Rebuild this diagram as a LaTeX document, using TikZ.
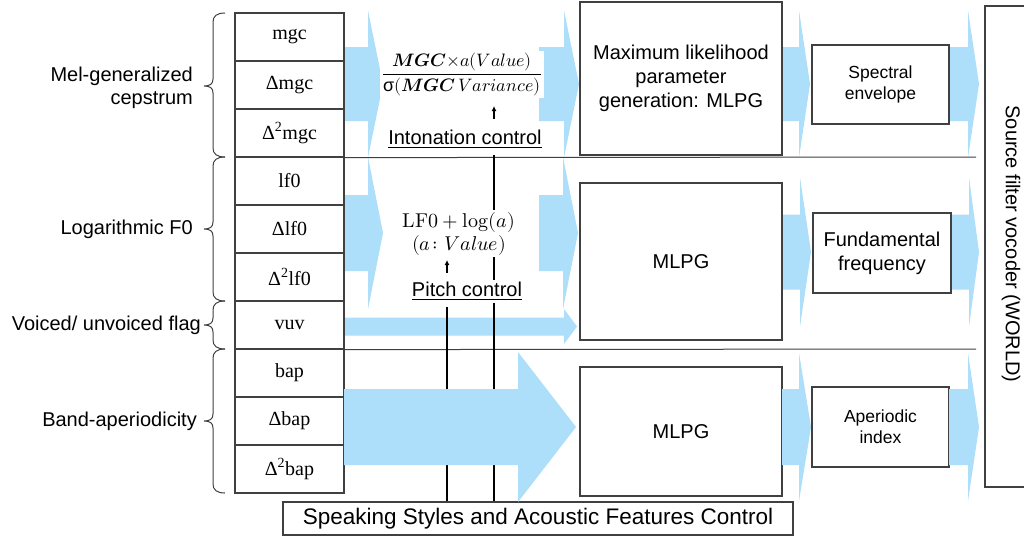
\documentclass[tikz,border=0pt]{standalone}
\usepackage{amsmath}
\usepackage{unicode-math}
\setmainfont{Liberation Sans}
\setmathfont{latinmodern-math.otf}
\newfontfamily\serifT{Liberation Serif}
\usetikzlibrary{arrows.meta}
\definecolor{lblue}{RGB}{173,222,250}
\definecolor{edge}{RGB}{64,64,64}
\tikzset{
  cell/.style={draw=edge, line width=1.2pt, minimum width=109pt, minimum height=48pt, inner sep=0pt, font=\serifT\fontsize{20}{24}\selectfont},
  lab/.style={font=\fontsize{20}{23}\selectfont, anchor=east, align=right, inner sep=0pt},
  box/.style={draw=edge, line width=1.3pt, inner sep=0pt, align=center, font=\fontsize{20}{24}\selectfont},
  smallbox/.style={box, font=\fontsize{17.5}{21}\selectfont},
  sepline/.style={draw=edge, line width=1pt},
  vline/.style={draw=black, line width=1.8pt},
  upar/.style={-{Latex[length=5pt,width=5pt]}, line width=1.5pt},
  ctl/.style={font=\fontsize{20}{24}\selectfont, inner sep=2pt, fill=white},
  mathtxt/.style={inner sep=2pt, fill=white},
  bracestyle/.style={draw=edge, line width=1pt},
}
\newcommand\blockarrow[6]{% x0 x1 x2 yc shafthalf headhalf
  \fill[lblue] (#1,#4-#5) -- (#2,#4-#5) -- (#2,#4-#6) -- (#3,#4) -- (#2,#4+#6) -- (#2,#4+#5) -- (#1,#4+#5) -- cycle;}
\newcommand\featbrace[3]{% ytop ytip ybottom
  \draw[bracestyle] (225,#1) .. controls (217,#1) and (213,#1+3) .. (213,#1+9) -- (213,#2-7)
    .. controls (213,#2-2) and (210,#2) .. (204,#2) .. controls (210,#2) and (213,#2+2) .. (213,#2+7)
    -- (213,#3-9) .. controls (213,#3-3) and (217,#3) .. (225,#3);}
\begin{document}
\begin{tikzpicture}[x=1pt,y=-1pt]
\clip (0,0) rectangle (1024,539);
\fill[white] (0,0) rectangle (1024,539);

% blue block arrows
\blockarrow{344}{368}{383}{84}{37}{73.5}
\blockarrow{539}{564}{579}{84}{37}{73.5}
\blockarrow{782}{799}{810}{84}{37}{73.5}
\blockarrow{949}{968}{979}{84}{37}{73.5}
\blockarrow{344}{368}{383}{233}{38}{76}
\blockarrow{539}{563}{578}{233}{38}{76}
\blockarrow{782}{800}{811}{252}{37.5}{74.5}
\blockarrow{951}{969}{979}{252}{37.5}{74.5}
\blockarrow{344}{564}{577}{326.5}{9}{17.5}

% feature table
\node[cell] (c0) at (289.5,37) {mgc};
\node[cell] (c1) at (289.5,85) {Δmgc};
\node[cell] (c2) at (289.5,133) {Δ\textsuperscript{2}mgc};
\node[cell] (c3) at (289.5,181) {lf0};
\node[cell] (c4) at (289.5,229) {Δlf0};
\node[cell] (c5) at (289.5,277) {Δ\textsuperscript{2}lf0};
\node[cell] (c6) at (289.5,325) {vuv};
\node[cell] (c7) at (289.5,373) {bap};
\node[cell] (c8) at (289.5,421) {Δbap};
\node[cell] (c9) at (289.5,469) {Δ\textsuperscript{2}bap};

% separators
\draw[sepline] (c2.south east) -- (976,157);
\draw[sepline] (c6.south east) -- (976,349);

% braces and labels
\featbrace{13}{86}{157}
\featbrace{157}{229}{301}
\featbrace{301}{325}{349}
\featbrace{349}{421}{493}
\node[lab] (lmgc) at (193,88) {Mel-generalized\\cepstrum};
\node[lab] (llf0) at (193,229) {Logarithmic F0};
\node[lab] (lvuv) at (201,325) {Voiced/ unvoiced flag};
\node[lab] (lbap) at (197,421) {Band-aperiodicity};

% MLPG boxes
\node[box, minimum width=202pt, minimum height=153pt] (m1) at (681,78.5) {Maximum likelihood\\parameter\\generation: MLPG};
\node[box, minimum width=202pt, minimum height=157pt] (m2) at (681,261.5) {MLPG};
\node[box, minimum width=202pt, minimum height=129pt] (m3) at (681,431.5) {MLPG};

% output boxes
\node[smallbox, minimum width=137pt, minimum height=79pt] (spec) at (880.5,84.5) {Spectral\\envelope};
\node[box, minimum width=138pt, minimum height=80pt] (fund) at (882,253) {Fundamental\\frequency};
\node[smallbox, minimum width=137pt, minimum height=80pt] (aper) at (880.5,427) {Aperiodic\\index};

% vocoder
\draw[edge, line width=1.3pt] (1030,6) -- (985,6) -- (985,487) -- (1030,487);
\node[rotate=-90, font=\fontsize{20}{24}\selectfont] (voc) at (1011,244) {Source filter vocoder (WORLD)};

% control box
\node[box, minimum width=510pt, minimum height=33pt, font=\fontsize{22.5}{26}\selectfont] (ctrl) at (538,518.5) {Speaking Styles and Acoustic Features Control};

% vertical control lines
\coordinate (vi) at (494,155);
\coordinate (vp) at (447,307);
\draw[vline] (vi) -- (vi |- ctrl.north);
\draw[vline] (vp) -- (vp |- ctrl.north);

% formulas and control labels
\node[mathtxt, anchor=base] (frac) at (462,79) {\fontsize{18}{22}\selectfont$\dfrac{\symbfit{MGC}{\times}a(Value)}{\text{σ}(\symbfit{MGC}\,Variance)}$};
\node[ctl, anchor=base] (into) at (465,144) {\underline{Intonation control}};
\node[mathtxt, anchor=base] (lfa) at (459,227) {\fontsize{20}{22}\selectfont$\symup{LF0}+\mathop{\symup{log}}\nolimits(a)$};
\node[mathtxt, anchor=base] (lfb) at (459,250) {\fontsize{20}{22}\selectfont$(a\colon Value)$};
\node[ctl, anchor=base] (pitch) at (467,296.5) {\underline{Pitch control}};
\coordinate (ai0) at (494,119);
\coordinate (ai1) at (494,106);
\coordinate (ap0) at (447,273);
\coordinate (ap1) at (447,260);
\draw[upar] (ai0) -- (ai1);
\draw[upar] (ap0) -- (ap1);

% bap arrows (over control lines)
\blockarrow{344}{518}{576}{427}{38}{75}
\blockarrow{782}{799}{811}{427}{38}{74}
\blockarrow{949}{968}{979}{427}{38}{74}
\end{tikzpicture}
\end{document}
